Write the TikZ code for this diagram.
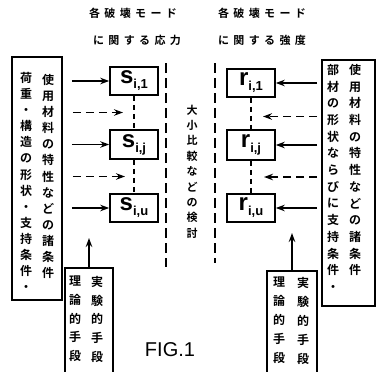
\documentclass[tikz,border=0pt]{standalone}
\usepackage{fontspec}
\setsansfont{Liberation Sans}
\newfontfamily\jp{Noto Sans CJK JP}[BoldFont={Noto Sans CJK JP Bold}]
\newfontfamily\jpmidashi{Noto Sans CJK JP Bold}[LetterSpace=40]
\newcommand{\shita}[1]{\raisebox{-5pt}{\fontsize{13}{13}\selectfont #1}}
\usetikzlibrary{arrows.meta,calc}

\begin{document}
\begin{tikzpicture}[x=1pt,y=-1pt,
    waku/.style={draw,line width=1.6pt,inner sep=0pt},
    hako/.style={waku,minimum width=48pt,minimum height=28pt,font=\sffamily\bfseries\fontsize{24}{24}\selectfont},
    tate/.style={font=\jp\bfseries\fontsize{12}{#1}\selectfont,align=center,inner sep=0pt,anchor=north},
    ya/.style={line width=1.4pt,-{Stealth[length=9pt,width=6.5pt]}},
    hasen/.style={dash pattern=on 8pt off 5pt},
    tensen/.style={line width=1.8pt,dash pattern=on 5pt off 4pt},
    kugiri/.style={line width=1.8pt,dash pattern=on 10pt off 5pt}]
            \useasboundingbox (0,0) rectangle (381,372);

            % 見出し
            \node[font=\jpmidashi\fontsize{11}{11}\selectfont] (m1) at (133,13) {各破壊モード};
            \node[font=\jpmidashi\fontsize{11}{11}\selectfont] (m2) at (262,13) {各破壊モード};
            \node[font=\jpmidashi\fontsize{11}{11}\selectfont] (m3) at (137,40) {に関する応力};
            \node[font=\jpmidashi\fontsize{11}{11}\selectfont] (m4) at (262,40) {に関する強度};

            % 左の条件
            \node[waku,minimum width=50pt,minimum height=243pt] (hidari) at (37,178.5) {};
            \node[tate=16.1] (h1) at (48,74) {使\\用\\材\\料\\の\\特\\性\\な\\ど\\の\\諸\\条\\件};
            \node[tate=16.1] (h2) at (26,72) {荷\\重\\・\\構\\造\\の\\形\\状\\・\\支\\持\\条\\件\\・};

            % 右の条件
            \node[waku,minimum width=53pt,minimum height=246pt] (migi) at (348.5,183) {};
            \node[tate=16.7] (m5) at (355,64) {使\\用\\材\\料\\の\\特\\性\\な\\ど\\の\\諸\\条\\件};
            \node[tate=16.7] (m6) at (333,64) {部\\材\\の\\形\\状\\な\\ら\\び\\に\\支\\持\\条\\件\\・};

            % 応力と強度
            \node[hako] (S1) at (134,81) {s\shita{i,1}};
            \node[hako,minimum height=29pt] (S2) at (134,144.5) {s\shita{i,j}};
            \node[hako] (S3) at (134,208) {s\shita{i,u}};
            \node[hako] (R1) at (251,83) {r\shita{i,1}};
            \node[hako,minimum height=30pt] (R2) at (251,145) {r\shita{i,j}};
            \node[hako] (R3) at (251,208) {r\shita{i,u}};
            \draw[tensen] (S1) -- (S2);
            \draw[tensen] (S2) -- (S3);
            \draw[tensen] (R1) -- (R2);
            \draw[tensen] (R2) -- (R3);

            % 条件から
            \draw[ya,shorten <=9pt] (hidari.east |- S1) -- (S1);
            \draw[ya,shorten <=9pt] (hidari.east |- S2) -- (S2);
            \draw[ya,shorten <=9pt] (hidari.east |- S3) -- (S3);
            \draw[ya,shorten <=4pt] (migi.west |- R1) -- (R1);
            \draw[ya,shorten <=4pt] (migi.west |- R2) -- (R2);
            \draw[ya,shorten <=4pt] (migi.west |- R3) -- (R3);
            \coordinate (P1) at ($(S1.south)!.5!(S2.north)+(-11,0)$);
            \coordinate (P2) at ($(S2.south)!.5!(S3.north)+(-9,0)$);
            \coordinate (Q1) at ($(R1.south)!.5!(R2.north)+(12,3)$);
            \coordinate (Q2) at ($(R2.south)!.5!(R3.north)+(13,0)$);
            \draw[ya,hasen,shorten <=10pt] (hidari.east |- P1) -- (P1);
            \draw[ya,hasen,shorten <=10pt] (hidari.east |- P2) -- (P2);
            \draw[ya,hasen,shorten <=4pt] (migi.west |- Q1) -- (Q1);
            \draw[ya,hasen,shorten <=4pt] (migi.west |- Q2) -- (Q2);

            % 大小比較
            \draw[kugiri] (166,63) -- (166,267);
            \draw[kugiri] (215,63) -- (215,263);
            \node[tate=15.4,font=\jp\bfseries\fontsize{11}{15.4}\selectfont] (hikaku) at (192,104.5) {大\\小\\比\\較\\な\\ど\\の\\検\\討};

            % 手段
            \node[waku,minimum width=48pt,minimum height=117pt] (shuhoL) at (89,326.5) {};
            \node[tate=18.7] (t1) at (97,276) {実\\験\\的\\手\\段};
            \node[tate=18.7] (t2) at (75,276) {理\\論\\的\\手\\段};
            \node[waku,minimum width=50pt,minimum height=114pt] (shuhoR) at (292,328) {};
            \node[tate=19] (t3) at (303,277) {実\\験\\的\\手\\段};
            \node[tate=19] (t4) at (279,277) {理\\論\\的\\手\\段};
            \coordinate (yaL) at (89,238);
            \coordinate (yaR) at (292,233);
            \draw[ya] (shuhoL) -- (yaL);
            \draw[ya] (shuhoR) -- (yaR);

            % 図番号
            \node[font=\sffamily\fontsize{20}{20}\selectfont] (fig) at (170,350) {FIG.1};
\end{tikzpicture}
\end{document}
